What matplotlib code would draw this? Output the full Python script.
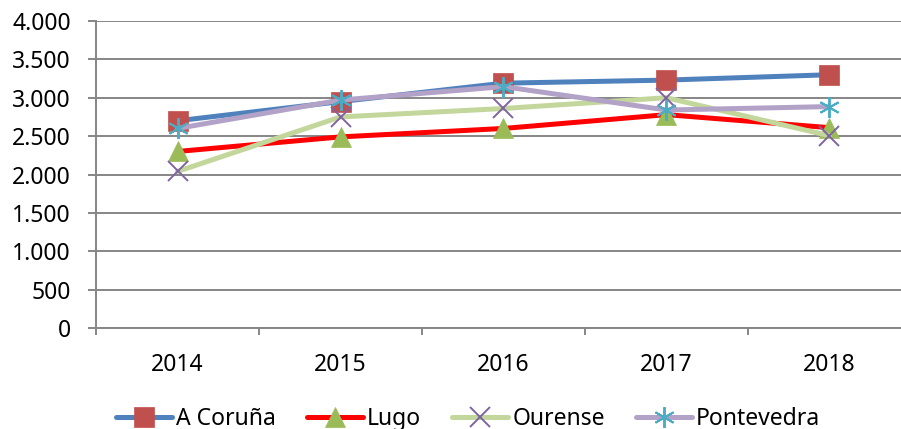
import matplotlib
matplotlib.use("Agg")
import matplotlib.pyplot as plt
from matplotlib.ticker import FuncFormatter, MultipleLocator, FixedLocator

years = ["2014", "2015", "2016", "2017", "2018"]
a_coruna = [2700, 2950, 3190, 3230, 3300]
lugo = [2300, 2490, 2600, 2780, 2610]
ourense = [2040, 2750, 2860, 3000, 2505]
pontevedra = [2600, 2970, 3145, 2840, 2885]

series = [
    ("A Coruña", a_coruna, "#4F81BD", "#C0504D", "s", 14),
    ("Lugo", lugo, "#FF0000", "#9BBB59", "^", 14.5),
    ("Ourense", ourense, "#C3D69B", "#8064A2", "x", 14),
    ("Pontevedra", pontevedra, "#B3A2C7", "#4BACC6", (6, 2, 0), 15),
]

plt.rcParams['font.family'] = ['Noto Sans', 'DejaVu Sans']

W, H = 901, 429
fig = plt.figure(figsize=(W / 100, H / 100), dpi=100)
left_px, right_px, top_px, bot_px = 96, 901, 21, 328
ax = fig.add_axes([left_px / W, (H - bot_px) / H, (right_px - left_px) / W, (bot_px - top_px) / H])

x = list(range(len(years)))
for name, vals, lc, mc, mk, ms in series:
    ax.plot(x, vals, color=lc, lw=3.6, marker=mk, markersize=ms,
            markerfacecolor=mc, markeredgecolor=mc,
            markeredgewidth=1.4 if mk in ("x", (6, 2, 0)) else 0.5,
            label=name, solid_capstyle='round', zorder=3)

px_per_cat = 163
ax.set_xlim(-0.5, -0.5 + (right_px - left_px) / px_per_cat)
ax.set_ylim(0, 4000)
ax.yaxis.set_major_locator(MultipleLocator(500))
ax.yaxis.set_major_formatter(FuncFormatter(lambda v, p: f"{int(v):,}".replace(",", ".")))
ax.set_xticks(x)
ax.set_xticklabels(years)
ax.xaxis.set_minor_locator(FixedLocator([i - 0.5 for i in range(6)]))

gc = "#868686"
ax.grid(axis='y', color=gc, lw=1.4, zorder=0)
ax.set_axisbelow(True)
for s in ["top", "right"]:
    ax.spines[s].set_visible(False)
for s in ["left", "bottom"]:
    ax.spines[s].set_color(gc)
    ax.spines[s].set_linewidth(1.4)

fs = 16.5
ax.tick_params(axis='y', which='major', length=6, width=1.4, color=gc, pad=12, labelsize=fs)
ax.tick_params(axis='x', which='major', length=0, pad=18, labelsize=fs)
ax.tick_params(axis='x', which='minor', length=5, width=1.4, color=gc)

leg = fig.legend(loc='center', bbox_to_anchor=(468 / W, (H - 419) / H), ncol=4, frameon=False,
                 fontsize=fs, handlelength=2.45, handletextpad=0.17, columnspacing=1.35,
                 borderpad=0, borderaxespad=0)

fig.savefig("out.png", dpi=100)
